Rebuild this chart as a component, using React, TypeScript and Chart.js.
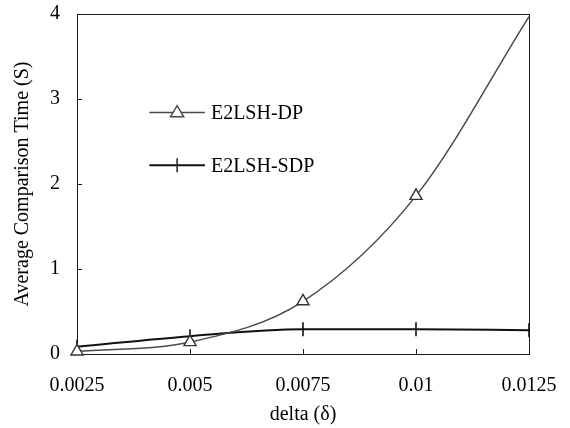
import React, { useEffect, useRef } from 'react';
import { Chart, registerables } from 'chart.js';

Chart.register(...registerables);

const deltas = [0.0025, 0.005, 0.0075, 0.01, 0.0125];
const xTickLabels = ['0.0025', '0.005', '0.0075', '0.01', '0.0125'];
const yTickValues = [0, 1, 2, 3, 4];
const dpTimes = [0.03, 0.14, 0.62, 1.86, 3.97];
const sdpTimes = [0.085, 0.21, 0.29, 0.29, 0.28];
const seriesNames = ['E2LSH-DP', 'E2LSH-SDP'];
const xTitle = 'delta (δ)';
const yTitle = 'Average Comparison Time (S)';

const FONT = "'Liberation Serif', 'Times New Roman', serif";
const INK = '#1a1a1a';

function drawMarker(ctx: CanvasRenderingContext2D, style: string, x: number, y: number, r: number, color: string) {
  ctx.save();
  ctx.strokeStyle = color;
  ctx.lineWidth = 1.4;
  ctx.beginPath();
  if (style === 'triangle') {
    ctx.moveTo(x, y - r);
    ctx.lineTo(x + r * 0.95, y + r * 0.6);
    ctx.lineTo(x - r * 0.95, y + r * 0.6);
    ctx.closePath();
    ctx.fillStyle = '#fff';
    ctx.fill();
    ctx.stroke();
  } else {
    ctx.moveTo(x, y - r);
    ctx.lineTo(x, y + r);
    ctx.stroke();
  }
  ctx.restore();
}

const framePlugin = {
  id: 'frame',
  beforeDatasetsDraw(chart: any) {
    const { ctx, chartArea: a, scales } = chart;
    ctx.save();
    ctx.strokeStyle = INK;
    ctx.lineWidth = 1;
    ctx.strokeRect(Math.round(a.left) + 0.5, Math.round(a.top) + 0.5, Math.round(a.right - a.left), Math.round(a.bottom - a.top));
    ctx.beginPath();
    yTickValues.forEach((v) => {
      const py = Math.round(scales.y.getPixelForValue(v)) + 0.5;
      ctx.moveTo(a.left, py);
      ctx.lineTo(a.left + 5, py);
    });
    deltas.forEach((v) => {
      const px = Math.round(scales.x.getPixelForValue(v)) + 0.5;
      ctx.moveTo(px, a.bottom);
      ctx.lineTo(px, a.bottom - 5);
    });
    ctx.stroke();
    ctx.restore();
  },
};

const legendPlugin = {
  id: 'inlineLegend',
  afterDraw(chart: any) {
    const { ctx, chartArea: a } = chart;
    const w = a.right - a.left;
    const h = a.bottom - a.top;
    const rows = [0.29, 0.445];
    chart.data.datasets.forEach((ds: any, i: number) => {
      const y = a.top + h * rows[i];
      const x0 = a.left + w * 0.16;
      const x1 = a.left + w * 0.283;
      const xm = (x0 + x1) / 2;
      ctx.save();
      ctx.strokeStyle = ds.borderColor;
      ctx.lineWidth = ds.borderWidth;
      ctx.beginPath();
      ctx.moveTo(x0, y);
      ctx.lineTo(x1, y);
      ctx.stroke();
      ctx.restore();
      drawMarker(ctx, ds.markerKind, xm, y, 7, ds.borderColor);
      ctx.save();
      ctx.fillStyle = '#000';
      ctx.font = `20px ${FONT}`;
      ctx.textBaseline = 'middle';
      ctx.textAlign = 'left';
      ctx.fillText(ds.label, x1 + 6, y + 1);
      ctx.restore();
    });
  },
};

export default function App() {
  const ref = useRef<HTMLCanvasElement | null>(null);

  useEffect(() => {
    if (!ref.current) return;
    const chart = new Chart(ref.current, {
      type: 'line',
      data: {
        datasets: [
          {
            label: seriesNames[0],
            data: deltas.map((d, i) => ({ x: d, y: dpTimes[i] })),
            borderColor: '#4a4a4a',
            borderWidth: 1.5,
            cubicInterpolationMode: 'monotone',
            pointStyle: 'triangle',
            pointRadius: (c: any) => (c.dataIndex === deltas.length - 1 ? 0 : 7),
            pointBackgroundColor: '#fff',
            pointBorderColor: '#333',
            pointBorderWidth: 1.4,
            clip: false,
            markerKind: 'triangle',
          } as any,
          {
            label: seriesNames[1],
            data: deltas.map((d, i) => ({ x: d, y: sdpTimes[i] })),
            borderColor: '#111',
            borderWidth: 2,
            cubicInterpolationMode: 'monotone',
            pointStyle: 'line',
            rotation: 90,
            pointRadius: 7,
            pointBorderColor: '#111',
            pointBorderWidth: 1.6,
            clip: false,
            markerKind: 'cross',
          } as any,
        ],
      },
      options: {
        responsive: false,
        animation: false,
        devicePixelRatio: 1,
        layout: { padding: { top: 14, right: 41, left: 0, bottom: 0 } },
        plugins: {
          legend: { display: false },
          tooltip: { enabled: false },
        },
        scales: {
          x: {
            type: 'linear',
            min: deltas[0],
            max: deltas[deltas.length - 1],
            afterBuildTicks: (s: any) => {
              s.ticks = deltas.map((v) => ({ value: v }));
            },
            afterFit: (s: any) => {
              s.height = 74;
              s.paddingLeft = 0;
              s.paddingRight = 0;
            },
            grid: { display: false, drawTicks: false },
            border: { display: false },
            ticks: {
              autoSkip: false,
              maxRotation: 0,
              padding: 20,
              color: '#000',
              font: { family: FONT, size: 20 },
              callback: (_v: any, i: number) => xTickLabels[i],
            },
            title: {
              display: true,
              text: xTitle,
              color: '#000',
              font: { family: FONT, size: 20 },
              padding: { top: 0, bottom: 1 },
            },
          },
          y: {
            min: 0,
            max: 4,
            afterBuildTicks: (s: any) => {
              s.ticks = yTickValues.map((v) => ({ value: v }));
            },
            afterFit: (s: any) => {
              s.width = 77;
              s.paddingTop = 0;
              s.paddingBottom = 0;
            },
            grid: { display: false, drawTicks: false },
            border: { display: false },
            ticks: {
              padding: 17,
              color: '#000',
              font: { family: FONT, size: 20 },
              callback: (v: any) => String(v),
            },
            title: {
              display: true,
              text: yTitle,
              color: '#000',
              font: { family: FONT, size: 20 },
              padding: { top: 11, bottom: 0 },
            },
          },
        },
      } as any,
      plugins: [framePlugin, legendPlugin],
    });
    return () => chart.destroy();
  }, []);

  return (
    <div style={{ position: 'absolute', left: 0, top: 0, width: 570, height: 428, background: '#fff' }}>
      <canvas ref={ref} width={570} height={428} style={{ display: 'block' }} />
    </div>
  );
}
